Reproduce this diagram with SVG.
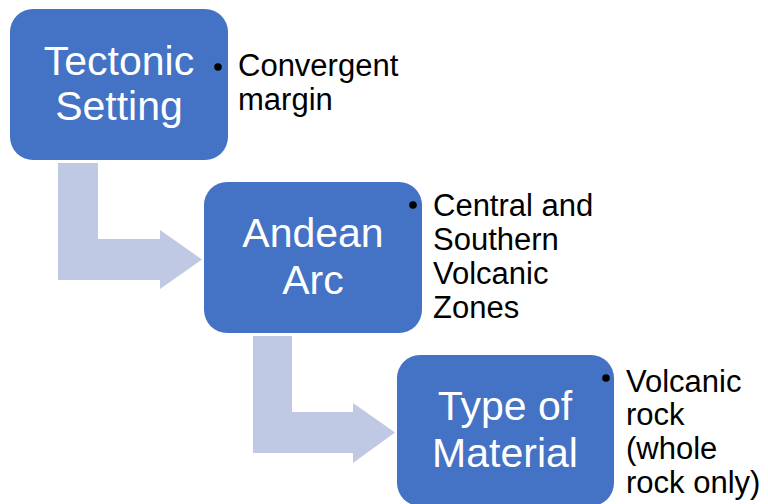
<svg xmlns="http://www.w3.org/2000/svg" width="768" height="504" viewBox="0 0 768 504">
<style>
.box{fill:#4472C4;}
.arrow{fill:#BFC9E3;}
.bt{font-family:"Liberation Sans",Arial,sans-serif;font-size:41px;fill:#FFFFFF;text-anchor:middle;}
.lt{font-family:"Liberation Sans",Arial,sans-serif;font-size:31px;fill:#000000;}
.dot{fill:#000000;}
</style>
<rect width="768" height="504" fill="#FFFFFF"/>
<g id="connectors">
<path class="arrow" d="M58,163 L98,163 L98,239 L160,239 L160,230 L202,259.5 L160,289 L160,280 L58,280 Z"/>
<path class="arrow" d="M253,336 L292,336 L292,412 L353,412 L353,403 L395,432.5 L353,463 L353,453 L253,453 Z"/>
</g>
<g id="node-tectonic">
<rect class="box" x="10" y="9" width="218" height="151" rx="23"/>
<text class="bt" x="119" y="75">Tectonic</text>
<text class="bt" x="119" y="120">Setting</text>
<circle class="dot" cx="218" cy="67" r="3.8"/>
<text class="lt" x="238" y="76">Convergent</text>
<text class="lt" x="238" y="110">margin</text>
</g>
<g id="node-andean">
<rect class="box" x="204" y="182" width="218" height="151" rx="23"/>
<text class="bt" x="313" y="247">Andean</text>
<text class="bt" x="313" y="294">Arc</text>
<circle class="dot" cx="413" cy="205" r="3.8"/>
<text class="lt" x="433" y="216">Central and</text>
<text class="lt" x="433" y="250">Southern</text>
<text class="lt" x="433" y="284">Volcanic</text>
<text class="lt" x="433" y="318">Zones</text>
</g>
<g id="node-material">
<rect class="box" x="397" y="355" width="217" height="151" rx="23"/>
<text class="bt" x="505" y="420">Type of</text>
<text class="bt" x="505" y="467">Material</text>
<circle class="dot" cx="606" cy="378" r="3.8"/>
<text class="lt" x="626" y="392">Volcanic</text>
<text class="lt" x="626" y="425">rock</text>
<text class="lt" x="626" y="459">(whole</text>
<text class="lt" x="626" y="493">rock only)</text>
</g>
</svg>
